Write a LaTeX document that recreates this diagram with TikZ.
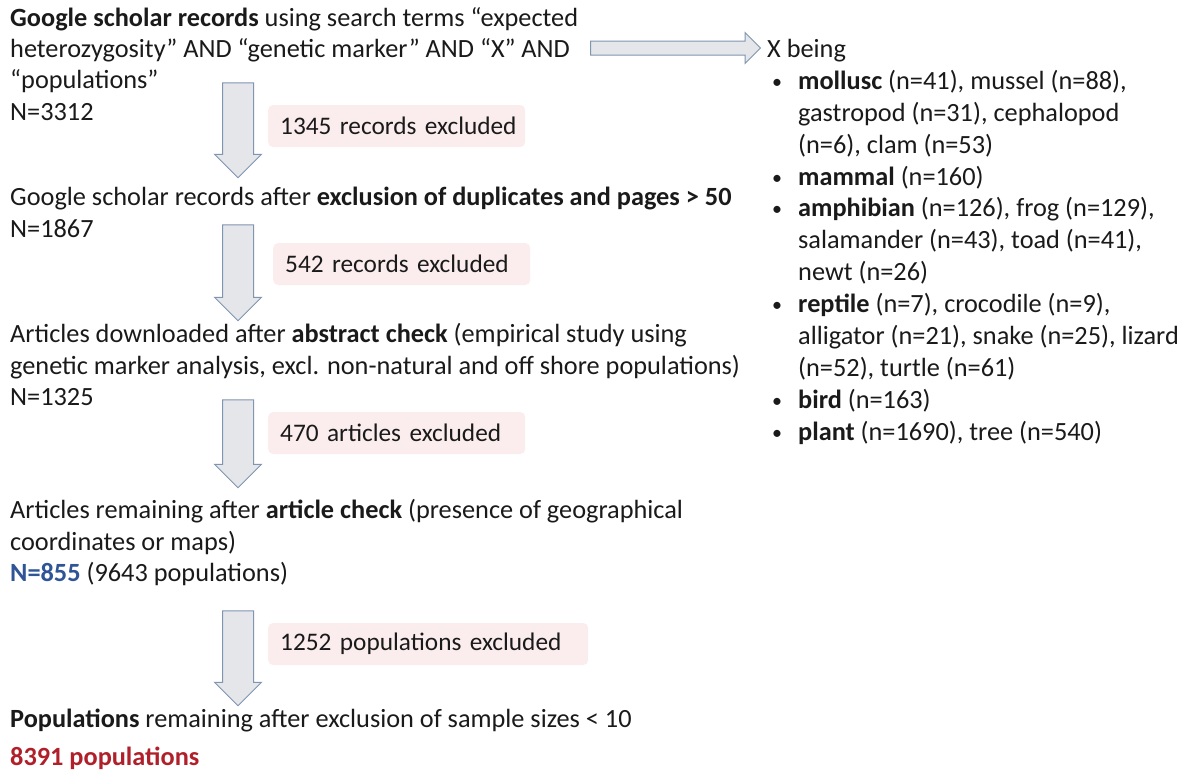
\documentclass[tikz,border=0pt]{standalone}
\usepackage{fontspec}
\setmainfont{Carlito}
\usepackage{xcolor}
\usetikzlibrary{shapes.arrows,positioning}
\definecolor{arrfill}{HTML}{E4E6EA}
\definecolor{arrline}{HTML}{8095B0}
\definecolor{exclfill}{HTML}{FBEDED}
\definecolor{nblue}{HTML}{2F5597}
\definecolor{nred}{HTML}{B0202A}
\definecolor{txt}{HTML}{1A1A1A}
\newcommand{\bul}{\hspace*{5pt}\makebox[26pt][l]{\fontsize{20}{20}\selectfont\raisebox{1pt}{•}}}
\newcommand{\ind}{\hspace*{31pt}}

\begin{document}
\begin{tikzpicture}[x=1pt,y=-1pt,
  every node/.style={text=txt,font=\fontsize{26.3}{31.4}\selectfont},
  block/.style={align=left,anchor=north west,inner sep=0pt},
  darrow/.style={single arrow,draw=arrline,fill=arrfill,line width=1pt,rotate=-90,
                 inner xsep=0pt,inner ysep=15pt,single arrow head extend=8pt,
                 minimum width=0pt,minimum height=#1},
  harrow/.style={single arrow,draw=arrline,fill=arrfill,line width=1pt,
                 inner xsep=0pt,inner ysep=6.5pt,single arrow head extend=8.5pt,
                 minimum width=0pt,minimum height=#1},
  excl/.style={fill=exclfill,rounded corners=5pt,anchor=west,align=left,
               font=\fontsize{25.3}{30}\selectfont,
               execute at begin node={\hbox\bgroup},execute at end node={\egroup},
               inner xsep=12pt,minimum height=42pt,text width=#1},excl/.default=233pt]
  \useasboundingbox[fill=white] (0,0) rectangle (1190,772);
  % search and screening steps
  \node[block] (rec) at (10,7) {\textbf{Google scholar records} using search terms “expected\\heterozygosity” AND “genetic marker” AND “X” AND\\“populations”\\N=3312};
  \node[darrow=95pt] (a1) at (238,122.5) {};
  \node[excl] (e1) at (268,126) {1345 records excluded};
  \node[block] (dup) at (10,187) {Google scholar records after \textbf{exclusion of duplicates and pages > 50}\\N=1867};
  \node[darrow=96pt] (a2) at (238,265) {};
  \node[excl] (e2) at (273,264) {542 records excluded};
  \node[block] (abs) at (10,323.5) {Articles downloaded after \textbf{abstract check} (empirical study using\\genetic marker analysis, excl. non-natural and off shore populations)\\N=1325};
  \node[darrow=88pt] (a3) at (238,436) {};
  \node[excl] (e3) at (268,433) {470 articles excluded};
  \node[block] (art) at (10,499.5) {Articles remaining after \textbf{article check} (presence of geographical\\coordinates or maps)\\\textcolor{nblue}{\textbf{N=855}} (9643 populations)};
  \node[darrow=95pt] (a4) at (238,650.5) {};
  \node[excl=296pt] (e4) at (268,644) {1252 populations excluded};
  \node[block] (pop) at (10,709) {\textbf{Populations} remaining after exclusion of sample sizes < 10\\[6pt]\textcolor{nred}{\textbf{8391 populations}}};
  % taxa used for X
  \node[harrow=170pt] (ax) at (672,48) {};
  \node[block,font=\fontsize{26.3}{31.9}\selectfont] (taxa) at (767,39) {X being\\
    \bul\textbf{mollusc} (n=41), mussel (n=88),\\
    \ind gastropod (n=31), cephalopod\\
    \ind (n=6), clam (n=53)\\
    \bul\textbf{mammal} (n=160)\\
    \bul\textbf{amphibian} (n=126), frog (n=129),\\
    \ind salamander (n=43), toad (n=41),\\
    \ind newt (n=26)\\
    \bul\textbf{reptile} (n=7), crocodile (n=9),\\
    \ind alligator (n=21), snake (n=25), lizard\\
    \ind (n=52), turtle (n=61)\\
    \bul\textbf{bird} (n=163)\\
    \bul\textbf{plant} (n=1690), tree (n=540)};
\end{tikzpicture}
\end{document}
